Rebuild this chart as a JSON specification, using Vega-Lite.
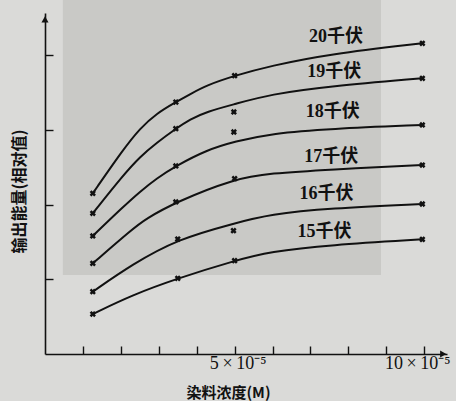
{
  "$schema": "https://vega.github.io/schema/vega-lite/v6.json",
  "width": 402,
  "height": 341,
  "padding": {"left": 45, "top": 13, "right": 9, "bottom": 47},
  "autosize": {"type": "none"},
  "background": "#dadad8",
  "config": {"view": {"stroke": null}},
  "datasets": {
    "curves": [
      {"kv": "20", "x": 1.26, "y": 2.151}, {"kv": "20", "x": 2.064, "y": 2.74}, {"kv": "20", "x": 2.505, "y": 3.021}, {"kv": "20", "x": 2.945, "y": 3.222}, {"kv": "20", "x": 3.45, "y": 3.373}, {"kv": "20", "x": 3.823, "y": 3.478}, {"kv": "20", "x": 4.263, "y": 3.598}, {"kv": "20", "x": 5.0, "y": 3.726}, {"kv": "20", "x": 5.93, "y": 3.855}, {"kv": "20", "x": 7.5, "y": 4.016}, {"kv": "20", "x": 9.95, "y": 4.159},
      {"kv": "19", "x": 1.26, "y": 1.884}, {"kv": "19", "x": 2.064, "y": 2.396}, {"kv": "19", "x": 2.505, "y": 2.641}, {"kv": "19", "x": 2.945, "y": 2.829}, {"kv": "19", "x": 3.45, "y": 3.016}, {"kv": "19", "x": 3.823, "y": 3.142}, {"kv": "19", "x": 4.263, "y": 3.244}, {"kv": "19", "x": 5.0, "y": 3.345}, {"kv": "19", "x": 5.93, "y": 3.476}, {"kv": "19", "x": 7.5, "y": 3.585}, {"kv": "19", "x": 9.95, "y": 3.691},
      {"kv": "18", "x": 1.26, "y": 1.58}, {"kv": "18", "x": 2.064, "y": 1.972}, {"kv": "18", "x": 2.505, "y": 2.173}, {"kv": "18", "x": 2.945, "y": 2.352}, {"kv": "18", "x": 3.45, "y": 2.517}, {"kv": "18", "x": 4.263, "y": 2.731}, {"kv": "18", "x": 5.0, "y": 2.845}, {"kv": "18", "x": 6.0, "y": 2.955}, {"kv": "18", "x": 7.5, "y": 3.015}, {"kv": "18", "x": 9.95, "y": 3.066},
      {"kv": "17", "x": 1.26, "y": 1.214}, {"kv": "17", "x": 2.3, "y": 1.67}, {"kv": "17", "x": 2.636, "y": 1.803}, {"kv": "17", "x": 3.45, "y": 2.035}, {"kv": "17", "x": 5.0, "y": 2.347}, {"kv": "17", "x": 5.93, "y": 2.419}, {"kv": "17", "x": 7.5, "y": 2.47}, {"kv": "17", "x": 9.95, "y": 2.53},
      {"kv": "16", "x": 1.26, "y": 0.834}, {"kv": "16", "x": 2.3, "y": 1.2}, {"kv": "16", "x": 3.5, "y": 1.539}, {"kv": "16", "x": 5.0, "y": 1.75}, {"kv": "16", "x": 5.93, "y": 1.87}, {"kv": "16", "x": 7.5, "y": 1.95}, {"kv": "16", "x": 9.95, "y": 2.008},
      {"kv": "15", "x": 1.26, "y": 0.535}, {"kv": "15", "x": 2.3, "y": 0.79}, {"kv": "15", "x": 3.5, "y": 1.013}, {"kv": "15", "x": 5.0, "y": 1.249}, {"kv": "15", "x": 5.93, "y": 1.369}, {"kv": "15", "x": 7.5, "y": 1.46}, {"kv": "15", "x": 9.95, "y": 1.535}
    ],
    "points": [
      {"kv": "20", "x": 1.26, "y": 2.151}, {"kv": "20", "x": 3.45, "y": 3.373}, {"kv": "20", "x": 5.0, "y": 3.726}, {"kv": "20", "x": 9.95, "y": 4.159},
      {"kv": "19", "x": 1.26, "y": 1.884}, {"kv": "19", "x": 3.45, "y": 3.016}, {"kv": "19", "x": 4.98, "y": 3.24}, {"kv": "19", "x": 9.95, "y": 3.691},
      {"kv": "18", "x": 1.26, "y": 1.58}, {"kv": "18", "x": 3.45, "y": 2.517}, {"kv": "18", "x": 4.98, "y": 2.972}, {"kv": "18", "x": 9.95, "y": 3.066},
      {"kv": "17", "x": 1.26, "y": 1.214}, {"kv": "17", "x": 3.45, "y": 2.035}, {"kv": "17", "x": 5.0, "y": 2.347}, {"kv": "17", "x": 9.95, "y": 2.53},
      {"kv": "16", "x": 1.26, "y": 0.834}, {"kv": "16", "x": 3.5, "y": 1.539}, {"kv": "16", "x": 4.97, "y": 1.651}, {"kv": "16", "x": 9.95, "y": 2.008},
      {"kv": "15", "x": 1.26, "y": 0.535}, {"kv": "15", "x": 3.5, "y": 1.013}, {"kv": "15", "x": 5.0, "y": 1.249}, {"kv": "15", "x": 9.95, "y": 1.535}
    ],
    "labels": [
      {"label": "20千伏", "x": 7.67, "y": 4.244},
      {"label": "19千伏", "x": 7.63, "y": 3.779},
      {"label": "18千伏", "x": 7.59, "y": 3.244},
      {"label": "17千伏", "x": 7.55, "y": 2.641},
      {"label": "16千伏", "x": 7.42, "y": 2.142},
      {"label": "15千伏", "x": 7.37, "y": 1.637}
    ]
  },
  "layer": [
    {
      "data": {"values": [{}]},
      "mark": {"type": "rect", "color": "#c9c9c6", "opacity": 1},
      "encoding": {
        "x": {"datum": 0.47, "type": "quantitative", "scale": {"domain": [0, 10.6], "nice": false, "zero": false},
          "axis": {
            "values": [1, 2, 3, 4, 5, 6, 7, 8, 9, 10],
            "grid": false,
            "domainColor": "#111", "domainWidth": 1.6,
            "tickColor": "#111", "tickWidth": 1.4, "tickSize": -8,
            "labelExpr": "datum.value == 5 ? '5\u2009×\u200910⁻⁵' : (datum.value == 10 ? '10\u2009×\u200910⁻⁵' : '')",
            "labelFont": "Liberation Serif", "labelFontSize": 18, "labelColor": "#111",
            "labelBaseline": "top", "labelPadding": 8, "labelFlush": false, "labelOverlap": false,
            "labelOffset": {"condition": {"test": "datum.value == 10", "value": -7}, "value": 3},
            "title": "染料浓度(M)",
            "titleFont": "Noto Sans CJK SC", "titleFontSize": 15, "titleFontWeight": "bold", "titleColor": "#111",
            "titleX": 183, "titleY": 38, "titleBaseline": "middle"
          }},
        "x2": {"datum": 8.86},
        "y": {"datum": 1.058, "type": "quantitative", "scale": {"domain": [0, 4.565], "nice": false, "zero": false},
          "axis": {
            "values": [1, 2, 3, 4],
            "grid": false,
            "domainColor": "#111", "domainWidth": 1.6,
            "tickColor": "#111", "tickWidth": 1.4, "tickSize": -8,
            "labels": false,
            "title": "输出能量(相对值)",
            "titleFont": "Noto Sans CJK SC", "titleFontSize": 16, "titleFontWeight": "bold", "titleColor": "#111",
            "titleAngle": -90, "titleX": -26, "titleY": 178, "titleAlign": "center", "titleBaseline": "middle"
          }},
        "y2": {"datum": 4.74}
      }
    },
    {
      "data": {"name": "curves"},
      "mark": {"type": "line", "interpolate": "basis", "color": "#111", "strokeWidth": 2},
      "encoding": {
        "x": {"field": "x", "type": "quantitative"},
        "y": {"field": "y", "type": "quantitative"},
        "detail": {"field": "kv"}
      }
    },
    {
      "data": {"name": "points"},
      "mark": {"type": "point", "shape": "cross", "angle": 45, "filled": true, "color": "#111", "size": 40, "opacity": 1},
      "encoding": {
        "x": {"field": "x", "type": "quantitative"},
        "y": {"field": "y", "type": "quantitative"}
      }
    },
    {
      "data": {"name": "labels"},
      "mark": {"type": "text", "font": "Liberation Serif, Noto Sans CJK SC", "fontSize": 18, "fontWeight": "bold", "color": "#111", "align": "center", "baseline": "middle"},
      "encoding": {
        "x": {"field": "x", "type": "quantitative"},
        "y": {"field": "y", "type": "quantitative"},
        "text": {"field": "label"}
      }
    },
    {
      "data": {"values": [{}]},
      "mark": {"type": "point", "shape": "triangle-right", "filled": true, "color": "#111", "size": 50, "opacity": 1},
      "encoding": {"x": {"datum": 10.5, "type": "quantitative"}, "y": {"datum": 0, "type": "quantitative"}}
    },
    {
      "data": {"values": [{}]},
      "mark": {"type": "point", "shape": "triangle-up", "filled": true, "color": "#111", "size": 50, "opacity": 1},
      "encoding": {"x": {"datum": 0, "type": "quantitative"}, "y": {"datum": 4.48, "type": "quantitative"}}
    }
  ]
}
